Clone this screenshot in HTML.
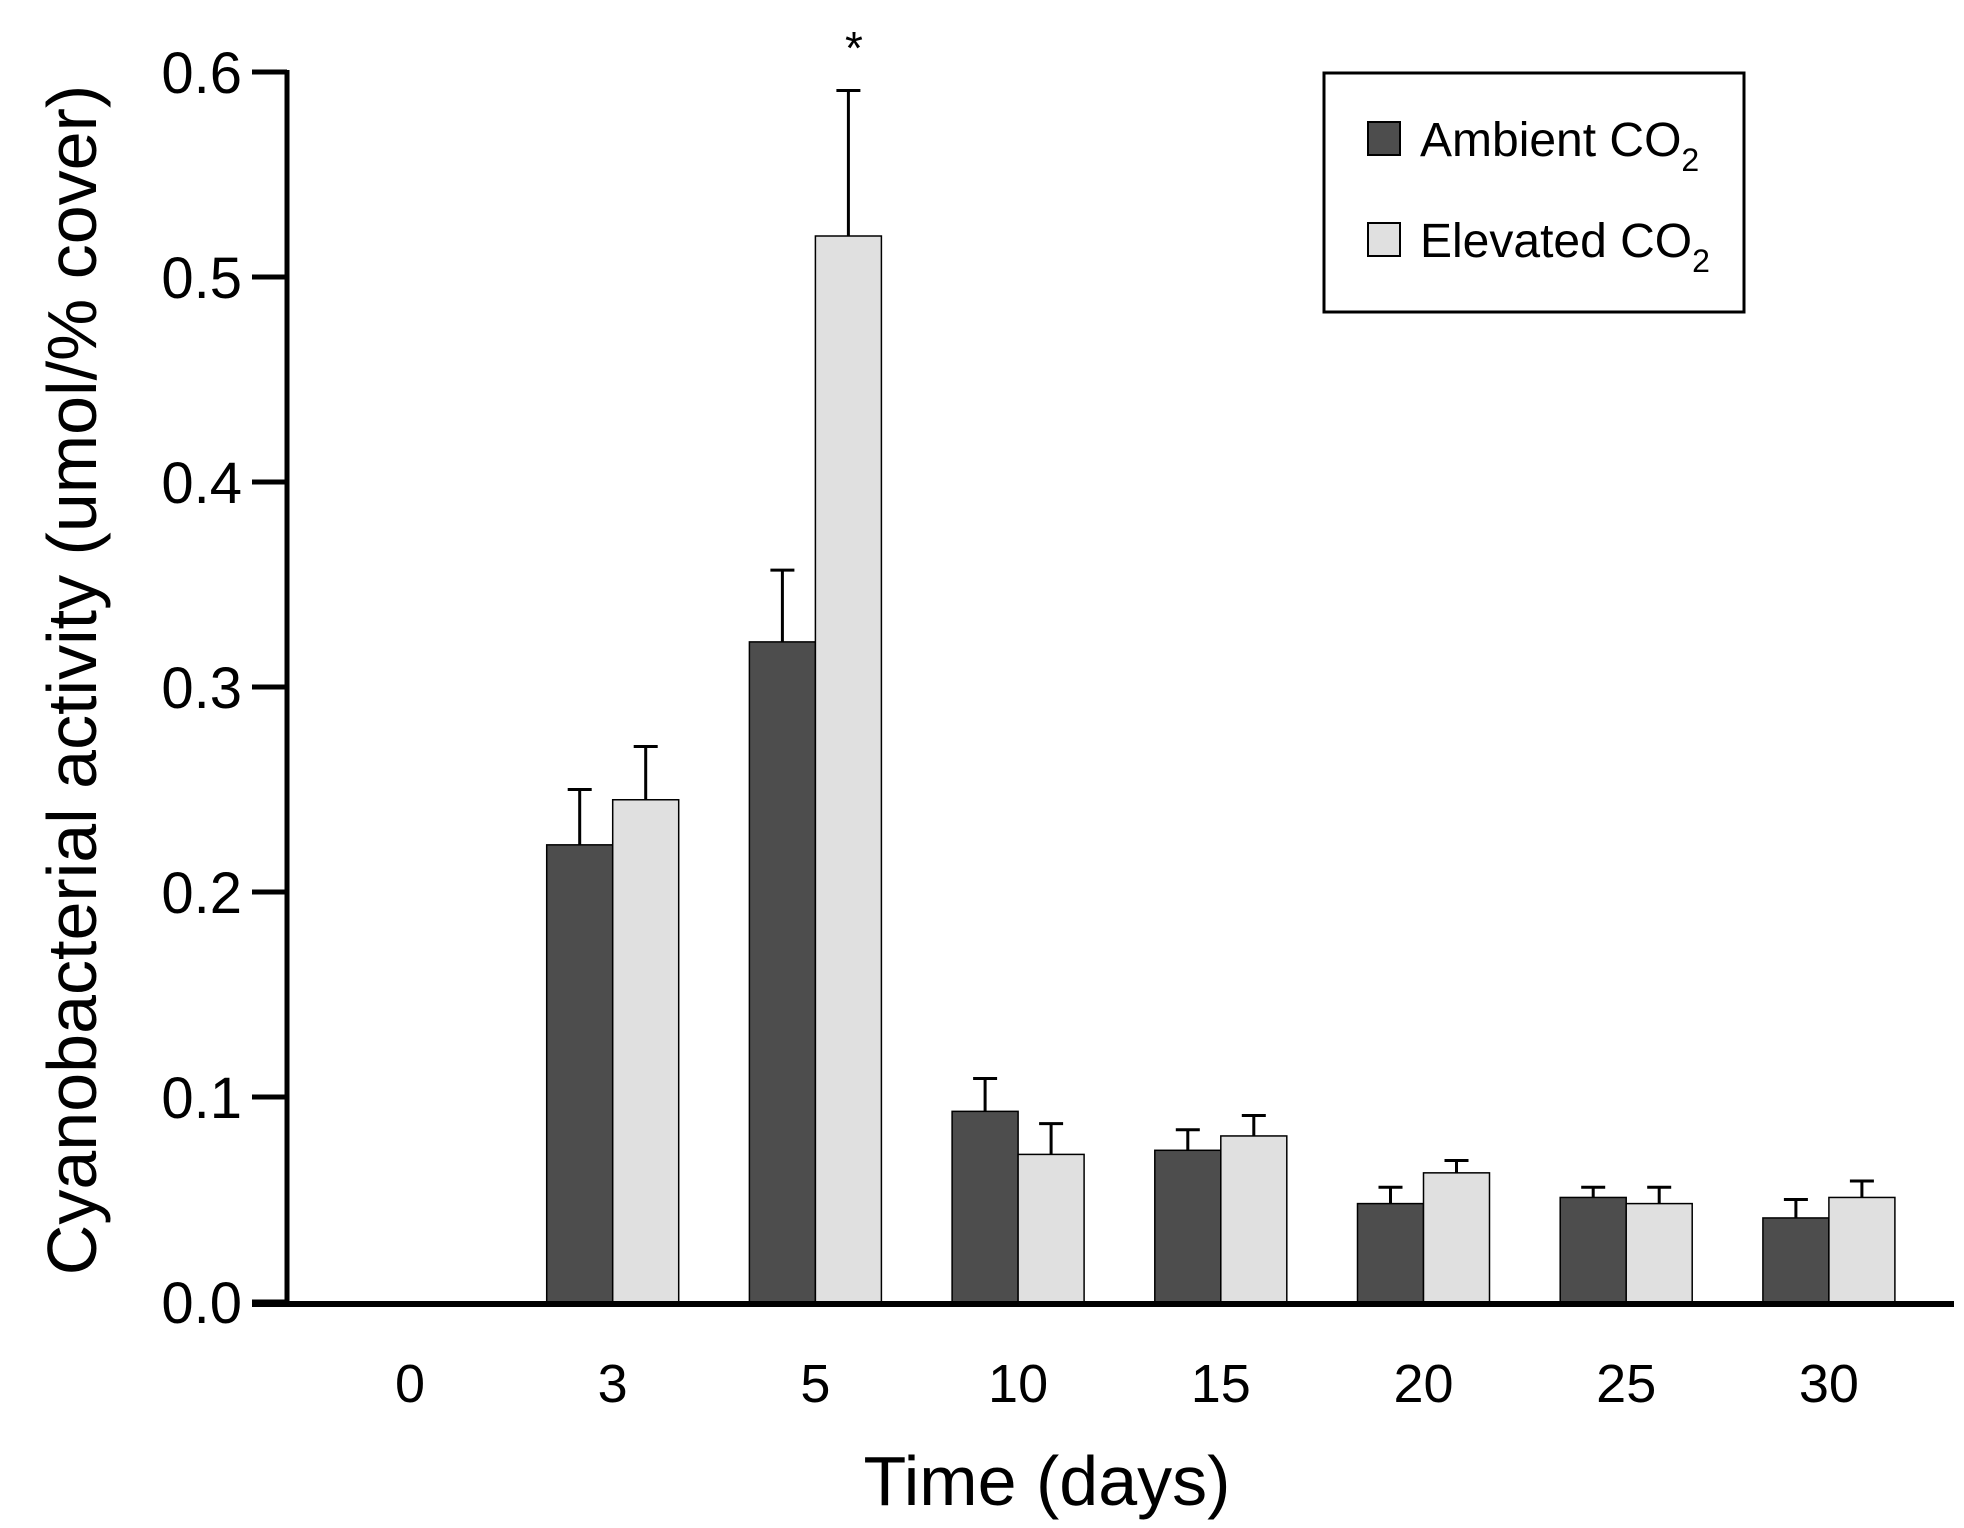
<!DOCTYPE html>
<html><head><meta charset="utf-8"><style>
html,body{margin:0;padding:0;background:#fff;}
svg{display:block;font-family:"Liberation Sans",sans-serif;}
</style></head><body>
<svg id="chart" width="1964" height="1528" viewBox="0 0 1964 1528">
<g id="bars"></g>
<g id="axes"></g>
<g>
<rect x="1324" y="73" width="420" height="239" fill="#fff" stroke="#000" stroke-width="3"/>
<rect x="1368" y="122" width="32" height="33" fill="#4d4d4d" stroke="#000" stroke-width="2"/>
<text x="1420" y="156" font-size="48">Ambient CO<tspan font-size="32" dy="15">2</tspan></text>
<rect x="1368" y="223" width="32" height="33" fill="#e0e0e0" stroke="#000" stroke-width="2"/>
<text x="1420" y="257" font-size="48">Elevated CO<tspan font-size="32" dy="15">2</tspan></text>
</g>
<text x="854" y="64" font-size="46" text-anchor="middle">*</text>
<text transform="translate(96,680) rotate(-90)" font-size="70" text-anchor="middle">Cyanobacterial activity (umol/% cover)</text>
<text x="1047" y="1505" font-size="70" text-anchor="middle">Time (days)</text>
</svg>
<script>
const categories=["0","3","5","10","15","20","25","30"];
const ambient=[0,0.223,0.322,0.093,0.074,0.048,0.051,0.041];
const ambientErr=[0,0.027,0.035,0.016,0.010,0.008,0.005,0.009];
const elevated=[0,0.245,0.52,0.072,0.081,0.063,0.048,0.051];
const elevatedErr=[0,0.026,0.071,0.015,0.010,0.006,0.008,0.008];
const yTicks=[0,0.1,0.2,0.3,0.4,0.5,0.6];
const yTickLabels=["0.0","0.1","0.2","0.3","0.4","0.5","0.6"];

const NS="http://www.w3.org/2000/svg";
const y0=1302, yTop=72, yMax=0.6;
const yScale=v=>y0-(v/yMax)*(y0-yTop);
const x0=410, step=202.7, bw=66;
const xScale=i=>x0+i*step;
const bars=document.getElementById('bars');
const axes=document.getElementById('axes');
function mk(tag,attrs,parent){const e=document.createElementNS(NS,tag);for(const k in attrs)e.setAttribute(k,attrs[k]);parent.appendChild(e);return e;}
function bar(i,v,err,left,fill,name){
  if(v<=0)return;
  const cx=xScale(i);
  const x=left?cx-bw:cx;
  const r=mk('rect',{x:x,y:yScale(v),width:bw,height:y0-yScale(v),fill:fill,stroke:'#000','stroke-width':1.5},bars);
  
  
  const mx=x+bw/2;
  const l=mk('path',{d:`M${mx},${yScale(v)}V${yScale(v+err)}M${mx-12},${yScale(v+err)}H${mx+12}`,stroke:'#000','stroke-width':3,fill:'none'},bars);
  
  
}
categories.forEach((c,i)=>{
  bar(i,ambient[i],ambientErr[i],true,'#4d4d4d','ambient');
  bar(i,elevated[i],elevatedErr[i],false,'#e0e0e0','elevated');
  const t=mk('text',{x:xScale(i),y:1402,'font-size':54,'text-anchor':'middle'},axes);
  t.textContent=c;
  
  
});
const ya=mk('line',{x1:287,y1:yTop-2,x2:287,y2:y0,stroke:'#000','stroke-width':5},axes);


const xa=mk('line',{x1:252,y1:y0+2,x2:1954,y2:y0+2,stroke:'#000','stroke-width':6},axes);


yTicks.forEach((v,i)=>{
  const tk=mk('line',{x1:252,y1:yScale(v),x2:287,y2:yScale(v),stroke:'#000','stroke-width':5},axes);
  
  
  const t=mk('text',{x:242,y:yScale(v)+21,'font-size':58,'text-anchor':'end'},axes);
  t.textContent=yTickLabels[i];
  
  
});
</script>
</body></html>
